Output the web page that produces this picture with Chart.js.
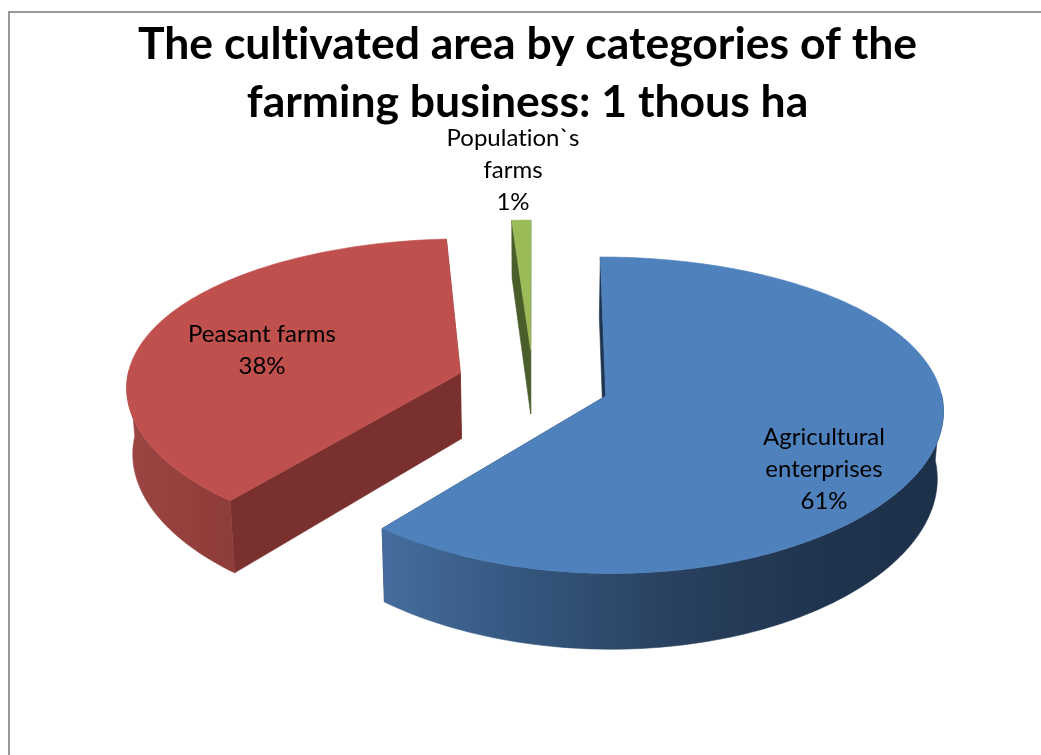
<!DOCTYPE html>
<html>
<head>
<meta charset="utf-8">
<title>Cultivated area</title>
<script src="https://cdn.jsdelivr.net/npm/chart.js@4/dist/chart.umd.js"></script>
<style>
  html, body { margin: 0; padding: 0; background: #fff; overflow: hidden; }
  #frame { position: absolute; left: 8px; top: 11px; right: 0; bottom: 0; border-left: 2px solid #999; border-top: 2px solid #999; }
  #chart { position: absolute; left: 0; top: 0; }
</style>
</head>
<body>
<div id="frame"></div>
<canvas id="chart" width="1041" height="755"></canvas>
<script>
const categories = ['Agricultural enterprises', 'Peasant farms', 'Population`s farms'];
const shares = [61, 38, 1];
const titleLines = ['The cultivated area by categories of the', 'farming business: 1 thous ha'];

// how the flat pie is laid down in perspective
const view = { cx: 533, cy: 384, rx: 334, ry: 153, perspX: 0.08, perspY: 0.12, explode: 0.23, depth: 66 };

const topColors = ['#4f81bd', '#c0504d', '#9bbb59'];
const cutColors = ['#1f3550', '#7a302e', '#4a5e2c'];
const sideStops = [
  [[386, '#456c9c'], [520, '#34577f'], [670, '#29415f'], [820, '#1f344e'], [945, '#1d3049']],
  [[131, '#9c4542'], [225, '#8f3d3a']],
  [[515, '#4a5e2c'], [531, '#4a5e2c']]
];

// label blocks, centre x and first baseline
const labelBlocks = [
  { x: 824, y: 445, lines: ['Agricultural', 'enterprises', '61%'] },
  { x: 262, y: 342, lines: ['Peasant farms', '38%'] },
  { x: 513, y: 146, lines: ['Population`s', 'farms', '1%'] }
];

function project(u, v, h) {
  const sx = 1 / (1 - view.perspX * v);
  const sy = 1 / (1 - view.perspY * v);
  const shrink = 1 - h * 0.015;
  return {
    x: view.cx + view.rx * u * sx * shrink,
    y: view.cy + view.ry * v * sy + h * view.depth * sy
  };
}

function fillPoly(ctx, pts, fill) {
  ctx.beginPath();
  pts.forEach((p, i) => (i ? ctx.lineTo(p.x, p.y) : ctx.moveTo(p.x, p.y)));
  ctx.closePath();
  ctx.fillStyle = fill;
  ctx.strokeStyle = fill;
  ctx.lineWidth = 0.6;
  ctx.fill();
  ctx.stroke();
}

const tiltedPie = {
  id: 'tiltedPie',
  beforeDraw(chart) {
    // plain glyphs, no "ti" ligature
    chart.ctx.textRendering = 'optimizeSpeed';
  },
  // the arcs keep their angles from the pie controller, only the drawing is replaced
  beforeDatasetsDraw(chart) {
    const ctx = chart.ctx;
    const arcs = chart.getDatasetMeta(0).data;
    const slices = arcs.map((arc, i) => {
      const mid = (arc.startAngle + arc.endAngle) / 2;
      const ox = Math.cos(mid) * view.explode;
      const oy = Math.sin(mid) * view.explode;
      const steps = Math.max(4, Math.ceil((arc.endAngle - arc.startAngle) / 0.02));
      const rim = [];
      const front = [];
      for (let k = 0; k <= steps; k++) {
        const a = arc.startAngle + (arc.endAngle - arc.startAngle) * k / steps;
        const p = [ox + Math.cos(a), oy + Math.sin(a)];
        rim.push(p);
        if (Math.sin(a) > -0.02) front.push(p);
      }
      return { i, ox, oy, rim, front };
    });

    ctx.save();
    // back to front: population, peasants, enterprises
    [2, 1, 0].forEach(idx => {
      const { i, ox, oy, rim, front } = slices[idx];
      const apexTop = project(ox, oy, 0);
      const apexLow = project(ox, oy, 1);
      const first = rim[0];
      const last = rim[rim.length - 1];

      // radial cut faces
      fillPoly(ctx, [apexTop, project(first[0], first[1], 0), project(first[0], first[1], 1), apexLow], cutColors[i]);
      fillPoly(ctx, [apexTop, project(last[0], last[1], 0), project(last[0], last[1], 1), apexLow], cutColors[i]);

      // outer wall with the sideways shading, only the part facing the viewer
      if (front.length > 1) {
        const stops = sideStops[i];
        const x0 = stops[0][0];
        const x1 = stops[stops.length - 1][0];
        const grad = ctx.createLinearGradient(x0, 0, x1, 0);
        stops.forEach(s => grad.addColorStop((s[0] - x0) / (x1 - x0), s[1]));
        const wall = front.map(p => project(p[0], p[1], 0))
          .concat(front.slice().reverse().map(p => project(p[0], p[1], 1)));
        fillPoly(ctx, wall, grad);
      }

      // top face
      fillPoly(ctx, [apexTop].concat(rim.map(p => project(p[0], p[1], 0))), topColors[i]);
    });
    ctx.restore();
    return false;
  },
  afterDraw(chart) {
    const ctx = chart.ctx;
    ctx.save();
    ctx.font = '24px Lato';
    ctx.fillStyle = '#000';
    ctx.textAlign = 'center';
    ctx.textBaseline = 'alphabetic';
    labelBlocks.forEach(b => b.lines.forEach((t, n) => ctx.fillText(t, b.x, b.y + n * 32)));
    ctx.restore();
  }
};

new Chart(document.getElementById('chart'), {
  type: 'pie',
  data: {
    labels: categories,
    datasets: [{ data: shares, backgroundColor: topColors, borderWidth: 0 }]
  },
  options: {
    responsive: false,
    animation: false,
    layout: { padding: { left: 14 } },
    plugins: {
      legend: { display: false },
      tooltip: { enabled: false },
      title: {
        display: true,
        text: titleLines,
        color: '#000',
        font: { family: 'Lato', size: 44.5, weight: 'bold', lineHeight: 1.3 },
        padding: { top: 16, bottom: 8 }
      }
    }
  },
  plugins: [tiltedPie]
});
</script>
</body>
</html>
